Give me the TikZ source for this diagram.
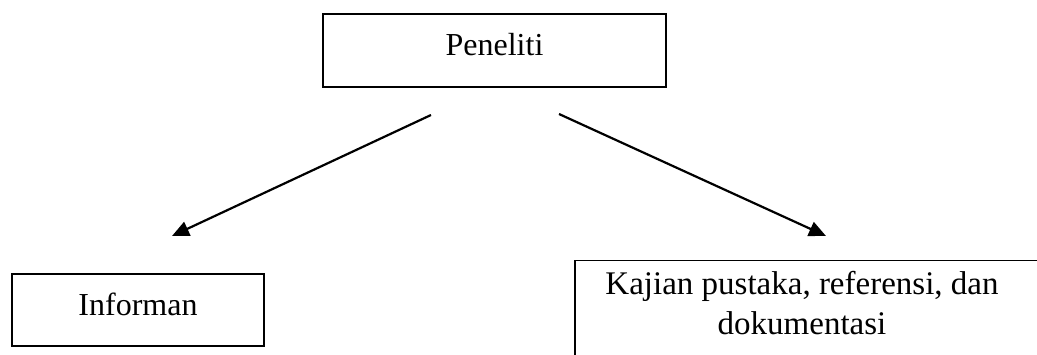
\documentclass[tikz,border=0pt]{standalone}
\usepackage{fontspec}
\setmainfont{Liberation Serif}
\usetikzlibrary{arrows.meta}
\begin{document}
\begin{tikzpicture}[x=1pt,y=-1pt,
  box/.style={draw, line width=1.5pt, inner sep=0pt, text height=21pt, text depth=10pt},
  conn/.style={line width=2.2pt, -{Triangle[length=17pt,width=15pt]}},
  every node/.style={font=\fontsize{32}{40}\selectfont}]
\clip (0,0) rectangle (1037,355);
\fill[white] (0,0) rectangle (1037,355);
\node[box, minimum width=343pt, minimum height=73pt] (peneliti) at (494.5,50.5) {Peneliti};
\node[box, minimum width=252pt, minimum height=72pt] (informan) at (138,310) {Informan};
\node[draw, line width=1.5pt, inner sep=0pt, anchor=north west, minimum width=464pt, minimum height=140pt] (kajian) at (574,260) {};
\node[align=center, inner sep=0pt, anchor=north, font=\fontsize{33}{40}\selectfont] (kajiantext) at (802,271) {Kajian pustaka, referensi, dan\\dokumentasi};
\coordinate (s1) at (431,115);
\coordinate (e1) at (172,236);
\coordinate (s2) at (559,114);
\coordinate (e2) at (826,236);
\draw[conn] (s1) -- (e1);
\draw[conn] (s2) -- (e2);
\end{tikzpicture}
\end{document}
